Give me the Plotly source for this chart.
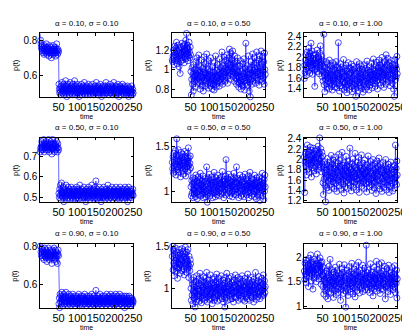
import plotly.graph_objects as go

# ---------------- data ----------------
alphas = ["0.10", "0.50", "0.90"]
sigmas = ["0.10", "0.50", "1.00"]
x_ticks = [50, 100, 150, 200, 250]

p11_high = [0.84, 0.80, 0.78, 0.76, 0.75, 0.77, 0.74, 0.73, 0.76, 0.75,
            0.72, 0.74, 0.77, 0.75, 0.73, 0.76, 0.78, 0.74, 0.72, 0.75,
            0.73, 0.76, 0.74, 0.71, 0.75, 0.77, 0.73, 0.74, 0.76, 0.72,
            0.70, 0.74, 0.75, 0.73, 0.77, 0.74, 0.72, 0.75, 0.73, 0.76,
            0.74, 0.71, 0.73, 0.75, 0.78, 0.74, 0.72, 0.75, 0.73, 0.74]
p11_low = [0.55, 0.52, 0.50, 0.53, 0.51, 0.49, 0.54, 0.52, 0.56, 0.50,
           0.53, 0.51, 0.55, 0.49, 0.52, 0.54, 0.50, 0.53, 0.57, 0.51,
           0.52, 0.48, 0.54, 0.53, 0.50, 0.55, 0.52, 0.51, 0.49, 0.53,
           0.56, 0.52, 0.50, 0.54, 0.51, 0.53, 0.49, 0.55, 0.52, 0.50,
           0.53, 0.51, 0.57, 0.52, 0.49, 0.54, 0.51, 0.53, 0.50, 0.55,
           0.52, 0.50, 0.53, 0.51, 0.48, 0.54, 0.52, 0.50, 0.53, 0.51,
           0.55, 0.52, 0.49, 0.53, 0.51, 0.54, 0.50, 0.52, 0.56, 0.51,
           0.49, 0.53, 0.52, 0.50, 0.54, 0.51, 0.53, 0.49, 0.52, 0.55,
           0.51, 0.53, 0.50, 0.52, 0.54, 0.49, 0.52, 0.51, 0.53, 0.50,
           0.55, 0.52, 0.51, 0.49, 0.53, 0.52, 0.50, 0.54, 0.51, 0.52,
           0.56, 0.50, 0.53, 0.51, 0.49, 0.52, 0.54, 0.50, 0.53, 0.51,
           0.52, 0.55, 0.50, 0.52, 0.48, 0.53, 0.51, 0.54, 0.52, 0.50,
           0.53, 0.51, 0.49, 0.54, 0.52, 0.50, 0.56, 0.51, 0.53, 0.50,
           0.52, 0.54, 0.51, 0.49, 0.53, 0.52, 0.50, 0.55, 0.51, 0.53,
           0.50, 0.52, 0.54, 0.51, 0.49, 0.53, 0.52, 0.56, 0.50, 0.52,
           0.51, 0.53, 0.49, 0.54, 0.52, 0.50, 0.53, 0.51, 0.55, 0.52,
           0.50, 0.48, 0.53, 0.51, 0.54, 0.52, 0.49, 0.53, 0.51, 0.52,
           0.55, 0.50, 0.52, 0.53, 0.49, 0.51, 0.54, 0.50, 0.52, 0.53,
           0.51, 0.49, 0.52, 0.50, 0.54, 0.51, 0.53, 0.48, 0.52, 0.50,
           0.53, 0.51, 0.49, 0.52, 0.50, 0.54, 0.51, 0.49, 0.52, 0.50]

p12_high = [1.10, 1.08, 1.14, 1.20, 1.12, 1.05, 1.18, 1.24, 1.15, 1.09,
            1.22, 1.28, 1.13, 1.06, 1.19, 1.25, 1.11, 1.17, 1.03, 1.21,
            1.14, 0.96, 1.08, 1.16, 1.23, 1.12, 1.27, 1.18, 1.10, 1.24,
            1.15, 1.20, 1.07, 1.26, 1.13, 1.19, 1.30, 1.11, 1.37, 1.22,
            1.16, 1.25, 1.09, 1.21, 1.14, 1.28, 1.18, 1.12, 1.23, 1.15]
p12_low = [0.98, 0.74, 0.90, 1.02, 0.85, 0.95, 0.78, 1.05, 0.92, 0.88,
           1.00, 0.93, 0.82, 1.08, 0.96, 0.89, 1.12, 0.94, 0.86, 0.99,
           0.91, 1.15, 0.87, 0.97, 0.80, 1.03, 0.93, 0.88, 1.10, 0.95,
           0.84, 1.01, 0.92, 0.78, 0.97, 1.13, 0.89, 0.94, 0.83, 1.06,
           0.96, 0.88, 1.16, 0.91, 0.85, 1.00, 0.93, 0.81, 1.09, 0.95,
           0.87, 0.98, 0.83, 1.12, 0.90, 0.86, 0.94, 0.80, 1.03, 0.92,
           0.85, 0.97, 0.79, 1.07, 0.89, 0.84, 1.14, 0.93, 0.82, 0.99,
           0.91, 0.86, 1.05, 0.94, 0.88, 0.97, 0.83, 1.11, 0.95, 0.90,
           1.02, 0.87, 0.96, 1.18, 0.92, 0.85, 1.04, 0.98, 0.89, 1.13,
           0.95, 1.01, 0.88, 1.09, 0.97, 0.92, 1.15, 0.99, 0.86, 1.06,
           1.00, 1.12, 0.94, 1.21, 0.97, 1.05, 0.90, 1.17, 1.02, 0.95,
           1.10, 0.98, 1.19, 0.93, 1.06, 1.01, 0.88, 1.14, 0.96, 1.03,
           0.91, 1.08, 0.85, 0.99, 0.94, 1.12, 0.87, 0.97, 0.82, 1.04,
           0.92, 0.86, 1.09, 0.89, 0.80, 0.98, 0.93, 0.84, 1.06, 0.90,
           0.83, 0.96, 1.11, 0.88, 0.79, 1.01, 0.92, 1.27, 0.86, 0.97,
           0.89, 1.04, 0.84, 0.95, 1.14, 0.91, 0.78, 1.00, 0.87, 0.72,
           0.96, 1.08, 0.90, 1.02, 0.85, 1.16, 0.94, 0.99, 0.88, 1.05,
           1.12, 0.93, 1.01, 0.86, 1.07, 0.97, 1.18, 0.91, 1.03, 0.95,
           0.89, 1.10, 0.98, 0.84, 1.14, 0.96, 1.02, 0.90, 1.19, 0.94,
           1.06, 0.88, 1.13, 0.99, 0.92, 1.08, 0.85, 1.17, 1.00, 0.95]

p13_high = [1.60, 1.85, 1.72, 1.95, 2.05, 1.78, 1.66, 2.10, 1.90, 1.82,
            2.02, 1.74, 2.18, 1.88, 1.96, 1.70, 2.08, 1.84, 2.27, 1.92,
            1.80, 2.12, 1.68, 1.98, 1.86, 2.04, 1.76, 1.94, 1.45, 1.89,
            2.06, 1.79, 1.99, 1.87, 2.14, 1.73, 1.93, 2.01, 1.81, 1.97,
            1.69, 2.09, 1.85, 2.22, 1.91, 1.77, 2.03, 1.64, 1.95, 1.83]
p13_low = [1.55, 1.72, 2.44, 1.48, 1.66, 1.35, 1.80, 1.58, 1.92, 1.50,
           1.70, 1.43, 1.88, 1.62, 1.55, 1.76, 1.40, 1.95, 1.60, 1.68,
           1.52, 1.84, 1.45, 1.73, 1.65, 1.38, 1.90, 1.57, 1.78, 1.49,
           1.86, 1.61, 1.44, 1.75, 1.54, 1.92, 1.67, 1.42, 1.81, 1.58,
           1.70, 2.28, 1.50, 1.63, 1.36, 1.77, 1.56, 1.88, 1.46, 1.69,
           1.59, 1.82, 1.41, 1.72, 1.53, 1.96, 1.64, 1.38, 1.79, 1.51,
           1.66, 1.44, 1.85, 1.57, 1.33, 1.74, 1.62, 1.48, 1.90, 1.55,
           1.68, 1.39, 1.80, 1.52, 1.71, 1.45, 1.87, 1.60, 1.35, 1.76,
           1.54, 1.83, 1.47, 1.65, 1.40, 1.78, 1.58, 1.50, 1.26, 1.70,
           1.92, 1.56, 1.43, 1.81, 1.63, 1.37, 1.74, 1.52, 1.88, 1.59,
           1.46, 1.69, 1.84, 1.41, 1.61, 1.77, 1.53, 1.34, 1.72, 1.57,
           1.86, 1.48, 1.65, 1.39, 1.79, 1.55, 1.70, 1.44, 1.93, 1.60,
           1.51, 1.76, 1.62, 1.38, 1.82, 1.58, 1.47, 1.73, 1.66, 1.54,
           1.89, 1.63, 1.42, 1.78, 1.57, 1.97, 1.68, 1.50, 1.75, 1.61,
           1.45, 1.84, 1.66, 1.55, 1.91, 1.72, 1.40, 1.80, 1.64, 1.58,
           1.95, 1.69, 1.52, 1.86, 1.74, 1.47, 1.82, 1.63, 2.00, 1.71,
           1.56, 1.88, 1.67, 1.43, 1.79, 1.92, 1.60, 1.75, 1.49, 2.05,
           1.73, 1.58, 1.85, 1.66, 1.98, 1.54, 1.77, 1.62, 1.90, 1.70,
           1.46, 1.83, 1.68, 1.94, 1.59, 1.76, 1.51, 1.87, 1.65, 1.40,
           1.80, 1.26, 1.72, 1.96, 1.57, 1.84, 1.63, 1.78, 2.02, 1.69]

p21_high = [0.72, 0.74, 0.73, 0.75, 0.77, 0.74, 0.76, 0.73, 0.75, 0.78,
            0.74, 0.72, 0.76, 0.75, 0.73, 0.77, 0.79, 0.75, 0.74, 0.76,
            0.73, 0.75, 0.78, 0.74, 0.72, 0.76, 0.75, 0.73, 0.77, 0.74,
            0.76, 0.71, 0.74, 0.78, 0.75, 0.73, 0.76, 0.74, 0.72, 0.75,
            0.79, 0.76, 0.73, 0.75, 0.77, 0.74, 0.72, 0.76, 0.74, 0.73]
p21_low = [0.52, 0.50, 0.54, 0.51, 0.56, 0.49, 0.53, 0.57, 0.51, 0.52,
           0.50, 0.55, 0.52, 0.48, 0.53, 0.51, 0.54, 0.50, 0.52, 0.56,
           0.51, 0.53, 0.49, 0.52, 0.55, 0.50, 0.53, 0.51, 0.54, 0.52,
           0.49, 0.53, 0.51, 0.55, 0.50, 0.52, 0.54, 0.51, 0.49, 0.53,
           0.52, 0.50, 0.54, 0.51, 0.53, 0.49, 0.52, 0.55, 0.50, 0.53,
           0.51, 0.54, 0.52, 0.49, 0.53, 0.51, 0.56, 0.52, 0.50, 0.53,
           0.51, 0.49, 0.54, 0.52, 0.50, 0.53, 0.51, 0.55, 0.52, 0.50,
           0.53, 0.51, 0.48, 0.52, 0.54, 0.50, 0.53, 0.51, 0.52, 0.55,
           0.50, 0.53, 0.51, 0.49, 0.54, 0.52, 0.50, 0.53, 0.56, 0.51,
           0.52, 0.50, 0.54, 0.51, 0.53, 0.49, 0.52, 0.55, 0.50, 0.58,
           0.53, 0.51, 0.49, 0.54, 0.52, 0.50, 0.53, 0.51, 0.55, 0.52,
           0.50, 0.53, 0.51, 0.48, 0.52, 0.54, 0.50, 0.53, 0.51, 0.52,
           0.55, 0.50, 0.53, 0.51, 0.49, 0.52, 0.54, 0.51, 0.53, 0.50,
           0.52, 0.56, 0.51, 0.49, 0.53, 0.52, 0.50, 0.54, 0.51, 0.53,
           0.50, 0.52, 0.55, 0.51, 0.49, 0.53, 0.52, 0.50, 0.54, 0.51,
           0.53, 0.50, 0.52, 0.55, 0.51, 0.49, 0.53, 0.52, 0.50, 0.54,
           0.51, 0.53, 0.49, 0.52, 0.55, 0.50, 0.53, 0.51, 0.54, 0.52,
           0.50, 0.53, 0.51, 0.49, 0.54, 0.52, 0.50, 0.55, 0.51, 0.53,
           0.52, 0.50, 0.54, 0.51, 0.48, 0.53, 0.51, 0.55, 0.52, 0.50,
           0.53, 0.51, 0.54, 0.52, 0.50, 0.53, 0.51, 0.52, 0.54, 0.51]

p22_high = [1.32, 1.25, 1.38, 1.20, 1.42, 1.28, 1.35, 1.22, 1.45, 1.30,
            1.18, 1.40, 1.58, 1.27, 1.36, 1.24, 1.46, 1.33, 1.21, 1.39,
            1.29, 1.34, 1.16, 1.43, 1.26, 1.37, 1.31, 1.23, 1.41, 1.28,
            1.35, 1.19, 1.32, 1.44, 1.25, 1.38, 1.17, 1.30, 1.36, 1.27,
            1.42, 1.22, 1.33, 1.48, 1.29, 1.37, 1.24, 1.31, 1.39, 1.26]
p22_low = [1.05, 0.95, 1.12, 0.98, 1.08, 1.15, 0.93, 1.02, 1.10, 0.97,
           1.14, 1.01, 0.94, 1.18, 1.06, 0.99, 1.11, 0.92, 1.04, 1.16,
           1.00, 1.09, 0.96, 1.13, 1.03, 1.20, 0.95, 1.07, 1.01, 1.12,
           0.97, 1.05, 1.17, 0.93, 1.10, 1.02, 0.98, 1.14, 1.06, 0.94,
           1.11, 1.00, 1.27, 0.96, 0.88, 1.08, 1.15, 1.03, 0.99, 1.19,
           1.04, 0.95, 1.12, 1.07, 0.97, 1.16, 1.01, 1.09, 0.93, 1.13,
           1.05, 0.98, 1.21, 1.02, 1.10, 0.94, 1.07, 1.15, 1.00, 1.11,
           0.96, 1.06, 1.18, 1.03, 0.99, 1.12, 0.95, 1.08, 1.14, 1.01,
           1.09, 0.97, 1.16, 1.04, 1.22, 0.99, 1.11, 1.06, 0.93, 1.13,
           1.02, 1.08, 1.17, 0.96, 1.35, 1.05, 1.10, 0.98, 1.14, 1.03,
           1.07, 1.19, 1.00, 1.12, 0.95, 1.09, 1.04, 1.16, 0.98, 1.11,
           1.06, 0.94, 1.13, 1.01, 1.08, 1.20, 0.97, 1.05, 1.15, 1.02,
           1.10, 0.96, 1.27, 1.03, 1.09, 0.99, 1.14, 1.06, 0.93, 1.12,
           1.04, 1.18, 1.00, 1.07, 0.95, 1.13, 1.02, 1.10, 0.97, 1.16,
           1.05, 1.11, 0.94, 1.08, 1.01, 1.19, 0.98, 1.06, 1.14, 1.03,
           0.96, 1.12, 1.07, 1.00, 1.17, 0.93, 1.09, 1.04, 1.21, 0.99,
           1.11, 1.05, 0.95, 1.14, 1.02, 1.08, 0.97, 1.13, 1.06, 1.00,
           1.18, 0.94, 1.10, 1.03, 1.07, 0.92, 1.15, 1.01, 1.09, 0.96,
           1.12, 1.05, 0.99, 1.16, 1.04, 0.90, 1.11, 1.07, 0.98, 1.14,
           1.02, 1.20, 0.95, 1.09, 1.06, 0.91, 1.13, 1.00, 1.18, 1.05]

p23_high = [2.05, 1.36, 1.95, 2.12, 1.88, 2.20, 1.70, 2.02, 2.28, 1.92,
            2.10, 1.82, 2.15, 1.98, 1.75, 2.06, 2.24, 1.90, 2.00, 1.66,
            2.18, 1.94, 2.08, 1.84, 2.22, 1.99, 1.78, 2.11, 1.96, 2.16,
            1.86, 2.04, 1.72, 2.19, 1.93, 2.09, 1.80, 2.26, 2.01, 1.89,
            2.13, 2.42, 1.97, 1.85, 2.21, 2.03, 1.76, 2.14, 1.91, 2.07]
p23_low = [1.55, 1.32, 1.85, 1.62, 1.96, 1.50, 1.74, 1.18, 1.90, 1.66,
           1.80, 1.45, 2.02, 1.70, 1.58, 1.88, 1.40, 1.76, 1.95, 1.63,
           1.84, 1.52, 2.08, 1.68, 1.46, 1.91, 1.73, 1.57, 1.99, 1.65,
           1.43, 1.82, 1.71, 2.05, 1.54, 1.87, 1.64, 1.38, 1.79, 1.93,
           1.60, 1.75, 2.10, 1.49, 1.86, 1.67, 1.98, 1.56, 1.81, 1.42,
           1.77, 2.14, 1.61, 1.89, 1.53, 1.72, 1.35, 1.94, 1.69, 1.83,
           1.47, 1.78, 2.06, 1.59, 1.88, 1.66, 1.44, 1.97, 1.74, 1.55,
           1.85, 1.63, 2.22, 1.50, 1.80, 1.70, 1.39, 1.92, 1.58, 1.76,
           2.01, 1.65, 1.46, 1.87, 1.73, 1.56, 2.12, 1.68, 1.84, 1.41,
           1.79, 1.62, 1.95, 1.52, 1.75, 2.04, 1.60, 1.36, 1.89, 1.71,
           1.54, 1.83, 1.67, 2.09, 1.48, 1.77, 1.63, 1.93, 1.57, 1.81,
           1.44, 1.72, 1.99, 1.60, 1.86, 1.53, 1.74, 1.37, 1.90, 1.66,
           1.78, 2.07, 1.55, 1.69, 1.84, 1.47, 1.76, 1.62, 1.96, 1.51,
           1.73, 1.40, 1.88, 1.64, 2.00, 1.58, 1.80, 1.45, 1.70, 1.92,
           1.56, 1.83, 1.34, 1.75, 1.61, 1.97, 1.68, 1.49, 1.86, 1.72,
           2.03, 1.59, 1.77, 1.43, 1.90, 1.65, 1.81, 1.52, 1.38, 1.74,
           1.63, 1.94, 1.57, 1.79, 1.46, 1.87, 1.70, 1.55, 2.00, 1.67,
           1.41, 1.82, 1.61, 1.76, 1.50, 1.91, 1.69, 1.36, 1.84, 1.58,
           1.73, 1.48, 1.95, 1.64, 1.80, 1.54, 1.71, 1.39, 1.86, 1.62,
           1.75, 1.44, 1.89, 1.57, 2.28, 1.66, 1.83, 1.51, 1.97, 1.70]

p31_high = [0.80, 0.82, 0.77, 0.75, 0.79, 0.76, 0.74, 0.78, 0.75, 0.77,
            0.73, 0.76, 0.79, 0.75, 0.77, 0.74, 0.78, 0.76, 0.72, 0.75,
            0.77, 0.74, 0.79, 0.76, 0.73, 0.75, 0.78, 0.76, 0.74, 0.77,
            0.75, 0.71, 0.76, 0.78, 0.74, 0.77, 0.75, 0.79, 0.73, 0.76,
            0.74, 0.78, 0.75, 0.72, 0.77, 0.75, 0.71, 0.76, 0.78, 0.75]
p31_low = [0.50, 0.53, 0.48, 0.55, 0.51, 0.54, 0.52, 0.50, 0.56, 0.51,
           0.53, 0.49, 0.52, 0.55, 0.50, 0.53, 0.51, 0.54, 0.52, 0.56,
           0.50, 0.53, 0.51, 0.49, 0.54, 0.52, 0.55, 0.50, 0.53, 0.51,
           0.52, 0.49, 0.54, 0.51, 0.53, 0.50, 0.52, 0.55, 0.51, 0.53,
           0.50, 0.52, 0.54, 0.51, 0.49, 0.53, 0.52, 0.50, 0.54, 0.51,
           0.53, 0.50, 0.52, 0.55, 0.51, 0.49, 0.53, 0.52, 0.50, 0.54,
           0.51, 0.53, 0.49, 0.52, 0.54, 0.50, 0.53, 0.51, 0.52, 0.55,
           0.50, 0.52, 0.51, 0.53, 0.49, 0.52, 0.54, 0.50, 0.53, 0.51,
           0.52, 0.50, 0.54, 0.51, 0.53, 0.49, 0.52, 0.50, 0.55, 0.51,
           0.53, 0.50, 0.52, 0.54, 0.51, 0.49, 0.53, 0.52, 0.50, 0.57,
           0.52, 0.50, 0.53, 0.51, 0.49, 0.54, 0.52, 0.50, 0.53, 0.51,
           0.55, 0.52, 0.50, 0.53, 0.51, 0.49, 0.52, 0.54, 0.50, 0.53,
           0.51, 0.52, 0.50, 0.54, 0.51, 0.53, 0.49, 0.52, 0.55, 0.50,
           0.53, 0.51, 0.52, 0.50, 0.54, 0.51, 0.53, 0.49, 0.52, 0.55,
           0.50, 0.53, 0.51, 0.54, 0.52, 0.50, 0.53, 0.51, 0.49, 0.54,
           0.52, 0.50, 0.55, 0.51, 0.53, 0.50, 0.52, 0.54, 0.51, 0.49,
           0.53, 0.52, 0.50, 0.55, 0.51, 0.53, 0.50, 0.52, 0.54, 0.51,
           0.49, 0.53, 0.51, 0.52, 0.50, 0.54, 0.48, 0.52, 0.53, 0.50,
           0.52, 0.54, 0.51, 0.49, 0.53, 0.51, 0.50, 0.52, 0.54, 0.50,
           0.53, 0.51, 0.49, 0.52, 0.50, 0.53, 0.51, 0.50, 0.52, 0.51]

p32_high = [1.38, 1.50, 1.22, 1.45, 1.30, 1.15, 1.40, 1.27, 1.48, 1.33,
            1.20, 1.36, 1.25, 1.43, 1.12, 1.31, 1.39, 1.24, 1.46, 1.29,
            1.35, 1.18, 1.42, 1.28, 1.34, 1.21, 1.47, 1.32, 1.26, 1.44,
            1.23, 1.37, 1.16, 1.41, 1.30, 1.49, 1.27, 1.35, 1.19, 1.43,
            1.32, 1.24, 1.46, 1.28, 1.13, 1.38, 1.26, 1.21, 1.34, 1.29]
p32_low = [1.00, 0.86, 1.10, 0.92, 1.05, 0.82, 0.97, 1.13, 0.89, 1.02,
           0.94, 0.78, 1.08, 0.96, 0.84, 1.15, 0.91, 1.03, 0.87, 0.99,
           1.11, 0.93, 1.06, 0.85, 1.18, 0.97, 0.90, 1.04, 0.83, 1.09,
           0.95, 1.01, 0.88, 1.14, 0.92, 0.98, 1.07, 0.86, 1.12, 0.94,
           1.03, 0.89, 1.19, 0.96, 0.84, 1.05, 0.99, 0.91, 1.10, 0.87,
           1.02, 0.93, 1.16, 0.97, 0.88, 1.06, 0.95, 0.82, 1.11, 1.00,
           0.90, 1.04, 0.86, 1.13, 0.96, 1.01, 0.89, 1.08, 0.94, 1.17,
           0.98, 0.85, 1.05, 0.92, 1.12, 0.99, 0.87, 1.07, 0.95, 1.02,
           0.91, 1.15, 0.97, 0.88, 1.04, 0.94, 1.10, 0.84, 1.00, 0.93,
           1.06, 0.78, 1.13, 0.96, 1.01, 0.89, 1.18, 0.95, 0.86, 1.08,
           0.99, 1.03, 0.91, 1.12, 0.87, 1.05, 0.97, 0.93, 1.14, 0.98,
           0.88, 1.07, 0.95, 1.01, 0.84, 1.10, 0.96, 1.04, 0.90, 1.16,
           0.97, 1.02, 0.89, 1.09, 0.94, 0.99, 1.13, 0.86, 1.05, 0.92,
           1.00, 0.95, 1.11, 0.88, 1.06, 0.97, 0.91, 1.15, 0.98, 1.03,
           0.87, 1.08, 0.94, 1.01, 0.85, 1.12, 0.96, 1.04, 0.90, 1.07,
           0.99, 0.93, 1.17, 0.88, 1.02, 0.95, 1.10, 0.86, 1.05, 0.97,
           0.91, 1.13, 0.98, 1.03, 0.89, 1.08, 0.94, 1.00, 0.84, 1.11,
           0.96, 1.04, 0.92, 1.19, 0.99, 0.87, 1.06, 0.95, 1.02, 0.90,
           1.09, 0.97, 1.14, 0.93, 1.01, 0.88, 1.07, 0.96, 1.03, 0.91,
           1.12, 0.98, 0.94, 1.05, 1.16, 0.92, 1.00, 1.09, 0.95, 1.02]

p33_high = [1.72, 1.55, 1.88, 1.66, 1.95, 1.48, 1.80, 1.62, 1.92, 1.70,
            1.85, 1.40, 1.76, 1.98, 1.60, 1.83, 1.68, 2.05, 1.74, 1.52,
            1.90, 1.65, 1.79, 1.35, 1.86, 1.71, 1.96, 1.58, 1.82, 1.67,
            1.93, 1.75, 1.50, 1.87, 1.63, 2.07, 1.78, 1.69, 1.94, 1.56,
            1.84, 1.73, 1.99, 1.61, 1.89, 1.45, 1.77, 1.91, 1.64, 1.81]
p33_low = [1.40, 1.62, 1.25, 1.55, 1.78, 1.33, 1.50, 1.68, 1.20, 1.47,
           1.72, 1.38, 1.58, 1.15, 1.65, 1.44, 1.82, 1.30, 1.53, 1.96,
           1.42, 1.60, 1.27, 1.75, 1.48, 1.35, 1.66, 1.52, 1.18, 1.70,
           1.45, 1.58, 1.32, 1.80, 1.50, 1.24, 1.63, 1.41, 1.73, 1.36,
           1.55, 1.28, 1.68, 1.46, 1.86, 1.39, 1.57, 1.12, 1.64, 1.49,
           1.34, 1.77, 1.51, 1.43, 1.69, 1.26, 1.59, 1.85, 1.40, 1.54,
           1.31, 0.98, 1.62, 1.47, 1.74, 1.37, 1.56, 1.22, 1.67, 1.44,
           1.81, 1.52, 1.35, 1.60, 1.29, 1.71, 1.48, 1.88, 1.42, 1.58,
           1.25, 1.66, 1.50, 1.38, 1.76, 1.54, 1.19, 1.63, 1.45, 1.83,
           1.39, 1.57, 1.32, 1.70, 1.51, 1.90, 1.44, 1.61, 1.27, 1.55,
           1.73, 1.41, 1.59, 1.36, 1.67, 1.48, 1.84, 1.30, 1.53, 1.65,
           1.43, 1.78, 1.56, 1.34, 1.62, 1.47, 2.25, 1.50, 1.39, 1.69,
           1.58, 1.33, 1.74, 1.46, 1.60, 1.28, 1.55, 1.87, 1.42, 1.64,
           1.37, 1.52, 1.70, 1.45, 1.21, 1.61, 1.49, 1.80, 1.35, 1.57,
           1.66, 1.40, 1.54, 1.92, 1.31, 1.63, 1.47, 1.75, 1.38, 1.59,
           1.44, 1.86, 1.52, 1.26, 1.68, 1.41, 1.56, 1.89, 1.36, 1.62,
           1.48, 1.72, 1.33, 1.58, 1.45, 1.82, 1.53, 1.15, 1.65, 1.40,
           1.57, 1.77, 1.43, 1.61, 1.30, 1.50, 1.84, 1.46, 1.67, 1.37,
           1.55, 1.24, 1.70, 1.49, 1.63, 1.42, 1.79, 1.34, 1.58, 1.46,
           1.66, 1.39, 1.83, 1.52, 1.28, 1.60, 1.47, 1.74, 1.17, 1.56]

series = [
    [p11_high + p11_low, p12_high + p12_low, p13_high + p13_low],
    [p21_high + p21_low, p22_high + p22_low, p23_high + p23_low],
    [p31_high + p31_low, p32_high + p32_low, p33_high + p33_low],
]
y_ranges = [
    [[0.478, 0.839], [0.72, 1.37], [1.25, 2.455]],
    [[0.477, 0.788], [0.88, 1.59], [1.17, 2.42]],
    [[0.48, 0.81], [0.773, 1.523], [0.97, 2.27]],
]
y_ticks = [
    [[0.6, 0.8], [0.8, 1, 1.2], [1.4, 1.6, 1.8, 2, 2.2, 2.4]],
    [[0.5, 0.6, 0.7], [1, 1.5], [1.2, 1.4, 1.6, 1.8, 2, 2.2, 2.4]],
    [[0.6, 0.8], [1, 1.5], [1, 1.5, 2]],
]

# ---------------- layout ----------------
W, H = 410, 330
col_px = [(33, 128), (168, 263), (303, 398)]
row_px = [(22, 87), (129, 195), (238, 303)]
FONT = "Liberation Sans, Arial, Helvetica, sans-serif"
BLUE = "#0000ff"

fig = go.Figure()
annotations = []
layout = dict(width=W, height=H, autosize=False,
              margin=dict(l=0, r=0, t=0, b=0),
              paper_bgcolor="white", plot_bgcolor="white",
              showlegend=False, font=dict(family=FONT, color="black"))

for r in range(3):
    for c in range(3):
        k = r * 3 + c + 1
        ys = series[r][c]
        t = list(range(1, len(ys) + 1))
        xa = "x" if k == 1 else f"x{k}"
        ya = "y" if k == 1 else f"y{k}"
        fig.add_trace(go.Scatter(
            x=t, y=ys, xaxis=xa, yaxis=ya, mode="lines+markers",
            line=dict(color=BLUE, width=0.6),
            marker=dict(symbol="circle-open", size=6, color=BLUE,
                        line=dict(width=0.7, color=BLUE)),
            cliponaxis=False, hoverinfo="skip"))
        L, R = col_px[c]
        T, B = row_px[r]
        common = dict(showgrid=False, zeroline=False, showline=True,
                      linecolor="black", linewidth=0.8, mirror="ticks",
                      ticks="inside", ticklen=2.5, tickwidth=0.6,
                      tickcolor="black", tickangle=0)
        layout["xaxis" if k == 1 else f"xaxis{k}"] = dict(
            domain=[L / W, R / W], anchor=ya, range=[1, 250],
            tickmode="array", tickvals=x_ticks, ticklabelstandoff=0,
            tickfont=dict(family=FONT, size=11, color="black"), **common)
        layout["yaxis" if k == 1 else f"yaxis{k}"] = dict(
            domain=[1 - B / H, 1 - T / H], anchor=xa,
            range=y_ranges[r][c], tickmode="array",
            tickvals=y_ticks[r][c], ticklabelstandoff=0,
            tickfont=dict(family=FONT, size=10, color="black"), **common)
        cx = (L + R) / 2 / W
        annotations.append(dict(
            text=f"α = {alphas[r]}, σ = {sigmas[c]}", xref="paper",
            yref="paper", x=cx, y=1 - (T - 10.5) / H, showarrow=False,
            xanchor="center", yanchor="middle", borderpad=0,
            font=dict(family=FONT, size=8, color="black")))
        annotations.append(dict(
            text="time", xref="paper", yref="paper", x=cx,
            y=1 - (B + 20) / H, showarrow=False, xanchor="center",
            yanchor="middle", borderpad=0,
            font=dict(family=FONT, size=7, color="black")))
        annotations.append(dict(
            text="p(t)", xref="paper", yref="paper", x=(L - 26) / W,
            y=1 - (T + B) / 2 / H, showarrow=False, textangle=-90,
            xanchor="center", yanchor="middle", borderpad=0,
            font=dict(family=FONT, size=7.5, color="black")))

layout["annotations"] = annotations
fig.update_layout(**layout)
fig.write_html("out.html")
